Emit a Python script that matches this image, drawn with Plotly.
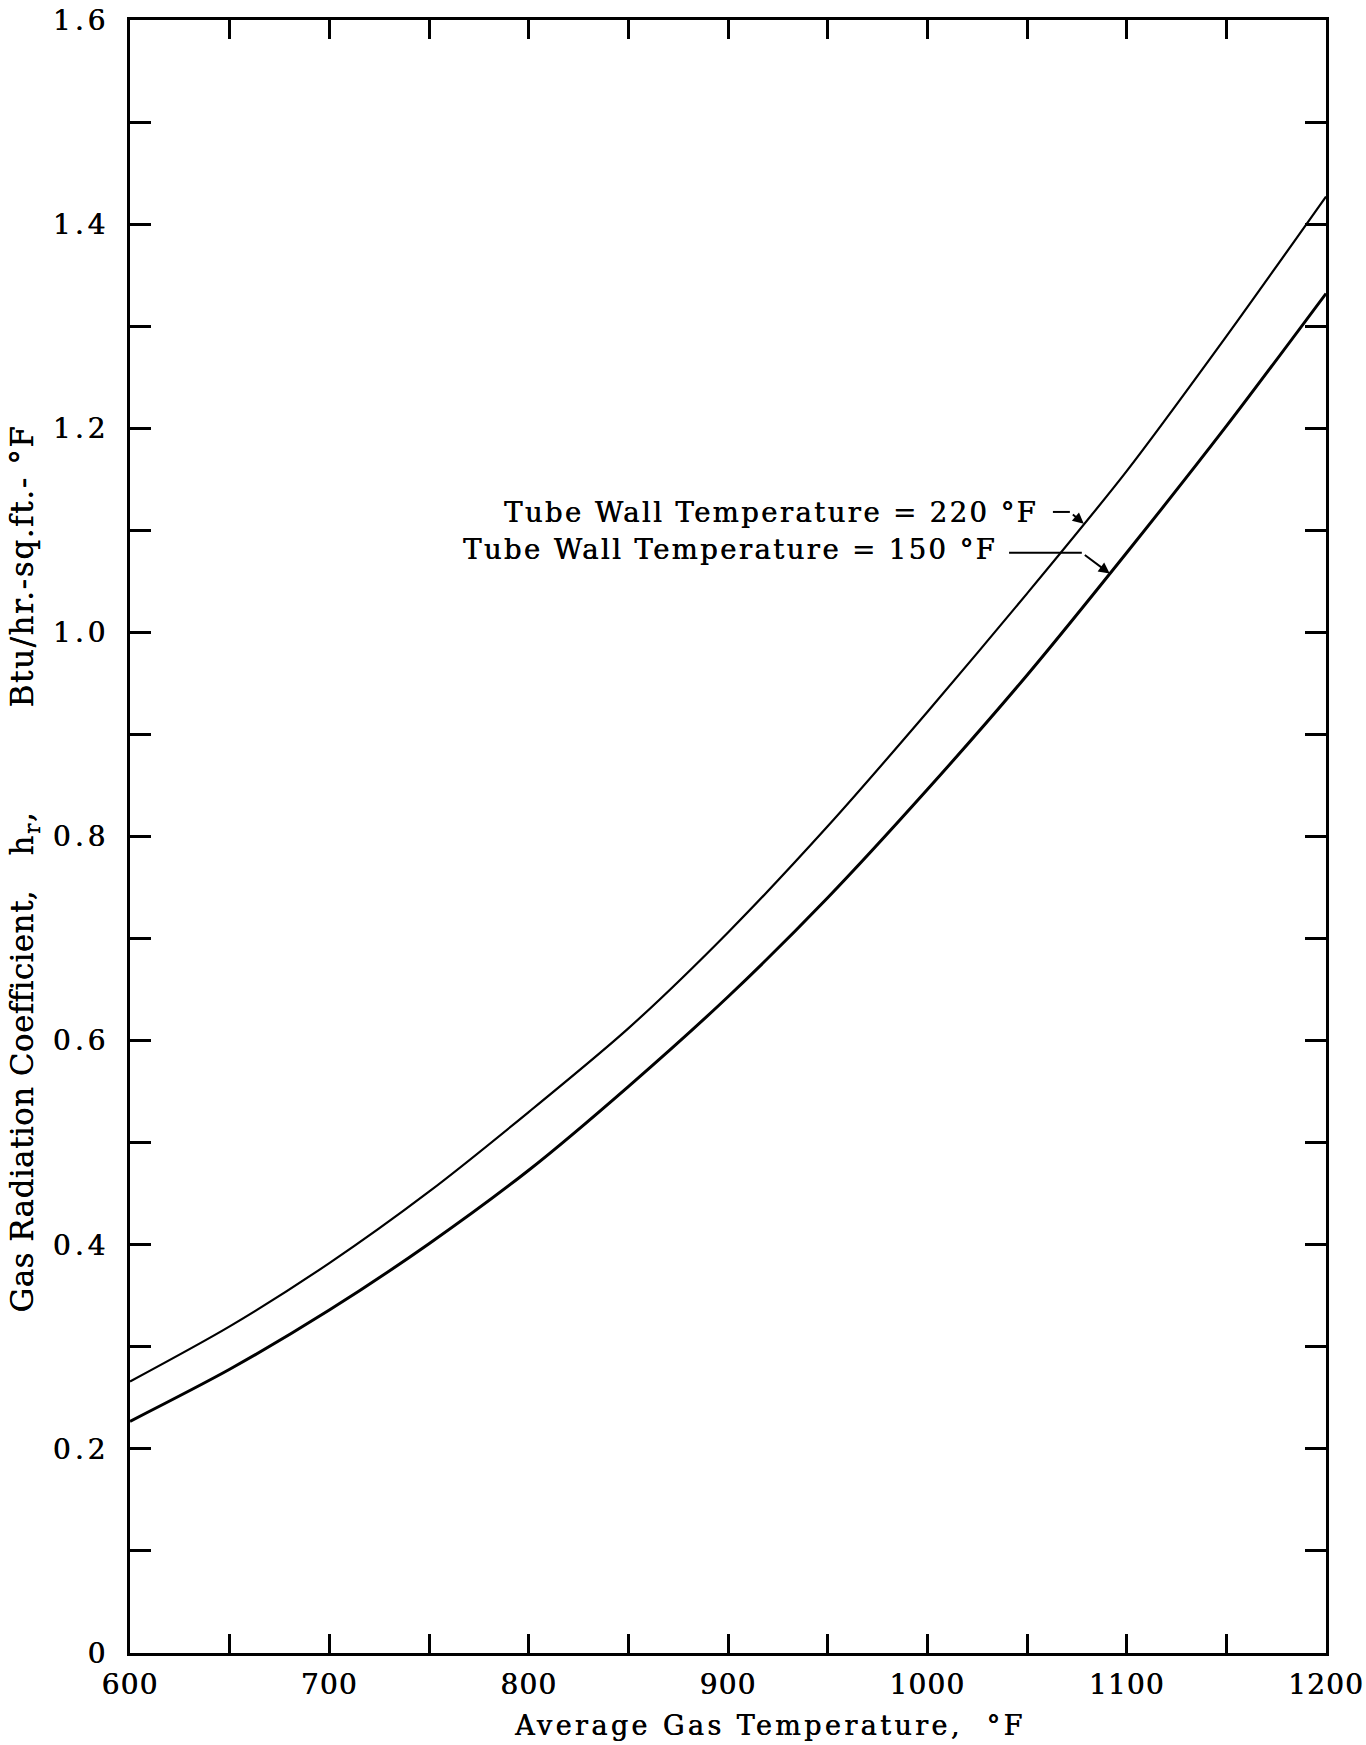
import numpy as np
import plotly.graph_objects as go

# Average gas temperature, °F
gas_temp = [600, 650, 700, 750, 800, 850, 900, 950, 1000, 1050, 1100, 1150, 1200]
# Gas radiation coefficient h_r, Btu/hr.-sq.ft.-°F
hr_wall_220 = [0.266, 0.320, 0.382, 0.452, 0.530, 0.612, 0.706, 0.810, 0.922, 1.038, 1.158, 1.290, 1.427]
hr_wall_150 = [0.227, 0.278, 0.336, 0.401, 0.473, 0.555, 0.643, 0.740, 0.846, 0.958, 1.078, 1.202, 1.332]

x_tick_vals = list(range(600, 1201, 50))
x_tick_text = ["600", "", "700", "", "800", "", "900", "", "1000", "", "1100", "", "1200"]
y_tick_vals = [round(0.1 * i, 1) for i in range(17)]
y_tick_text = ["0", "", "0.2", "", "0.4", "", "0.6", "", "0.8", "", "1.0", "", "1.2", "", "1.4", "", "1.6"]

SERIF = "DejaVu Serif"
INK = "0.5px 0px 0px #000"   # slight ink spread to give the typed look


def spaced(s, px):
    return f'<span style="letter-spacing:{px}px">{s}</span>'


def typed(size):
    return dict(family=SERIF, size=size, color="black", shadow=INK)


fig = go.Figure()
fig.add_trace(go.Scatter(x=gas_temp, y=hr_wall_220, mode="lines",
                         line=dict(color="black", width=2.2, shape="spline", smoothing=0.8),
                         name="220 °F", showlegend=False))
fig.add_trace(go.Scatter(x=gas_temp, y=hr_wall_150, mode="lines",
                         line=dict(color="black", width=3, shape="spline", smoothing=0.8),
                         name="150 °F", showlegend=False))

axis_common = dict(showgrid=False, zeroline=False, showline=True, linecolor="black", linewidth=3,
                   mirror="ticks", ticks="inside", tickcolor="black", tickwidth=2.5,
                   tickmode="array", automargin=False)

fig.update_xaxes(range=[600, 1200], tickvals=x_tick_vals,
                 ticktext=[spaced(t, 1.2) if t else " " for t in x_tick_text],
                 ticklen=19, tickfont=typed(28),
                 ticklabelstandoff=4, **axis_common)
fig.update_yaxes(range=[0, 1.6], tickvals=y_tick_vals,
                 ticktext=[spaced(t, 4) if t else " " for t in y_tick_text],
                 ticklen=21, tickfont=typed(28),
                 ticklabelstandoff=12, **axis_common)

annotations = []
shapes = []

# Curve labels with leader lines and arrows pointing onto each curve
labels = [
    dict(text="Tube Wall Temperature = 220 °F", series=hr_wall_220,
         text_x=1056.6, text_y=1.1175, lead_x0=1063.0, lead_x1=1071.5, lead_y=1.118, tip_x=1078.5),
    dict(text="Tube Wall Temperature = 150 °F", series=hr_wall_150,
         text_x=1035.7, text_y=1.0816, lead_x0=1041.0, lead_x1=1077.5, lead_y=1.078, tip_x=1091.5),
]
for lab in labels:
    annotations.append(dict(x=lab["text_x"], y=lab["text_y"], xref="x", yref="y",
                            text=spaced(lab["text"], 2.4), showarrow=False,
                            xanchor="right", yanchor="middle", font=typed(27.5)))
    shapes.append(dict(type="line", xref="x", yref="y", x0=lab["lead_x0"], x1=lab["lead_x1"],
                       y0=lab["lead_y"], y1=lab["lead_y"], line=dict(color="black", width=2)))
    tip_y = float(np.interp(lab["tip_x"], gas_temp, lab["series"]))
    annotations.append(dict(x=lab["tip_x"], y=tip_y, xref="x", yref="y",
                            ax=lab["lead_x1"], ay=lab["lead_y"], axref="x", ayref="y",
                            text=" ", showarrow=True, arrowhead=2, arrowsize=1.1,
                            arrowwidth=2, arrowcolor="black", standoff=0))

# Axis titles
annotations.append(dict(x=0.535, y=-0.0441, xref="paper", yref="paper",
                        text=spaced("Average Gas Temperature,\u00a0\u00a0°F", 3.4), showarrow=False,
                        xanchor="center", yanchor="middle", font=typed(27)))
y_title = (spaced("Gas Radiation Coefficient,", 0.4)
           + spaced("\u00a0\u00a0\u00a0h<sub>r</sub>,"
                    "\u00a0\u00a0\u00a0\u00a0\u00a0\u00a0\u00a0\u00a0\u00a0Btu/hr.-sq.ft.-\u00a0°F", 1.6))
annotations.append(dict(x=-0.0878, y=0.4804, xref="paper", yref="paper", textangle=-90,
                        text=y_title, showarrow=False, xanchor="center", yanchor="middle",
                        font=dict(family=SERIF, size=31, color="black", shadow="0.3px 0px 0px #000")))

fig.update_layout(width=1366, height=1745, margin=dict(l=130, r=40, t=20, b=92, autoexpand=False),
                  plot_bgcolor="white", paper_bgcolor="white",
                  annotations=annotations, shapes=shapes, showlegend=False)

fig.write_html("out.html", config={"displayModeBar": False})
